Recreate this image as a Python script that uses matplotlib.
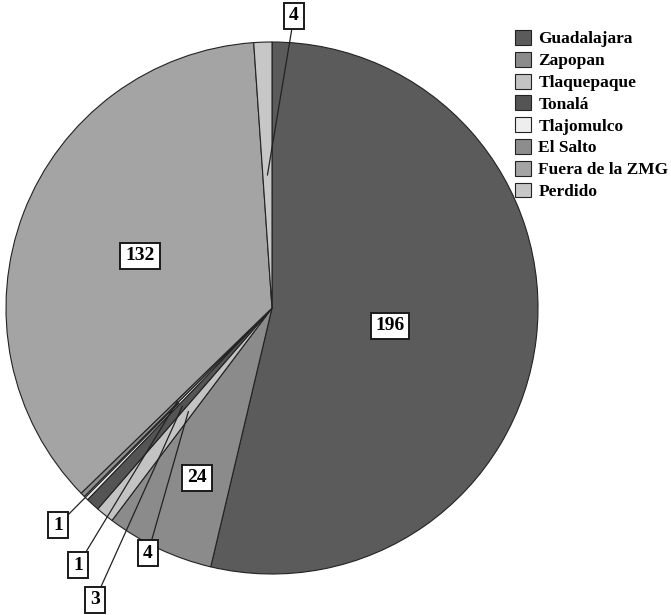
import numpy as np
import matplotlib
matplotlib.use('Agg')
from matplotlib import pyplot as plt

municipios = ['Guadalajara', 'Zapopan', 'Tlaquepaque', 'Tonalá', 'Tlajomulco',
              'El Salto', 'Fuera de la ZMG', 'Perdido']
casos = [196, 24, 4, 3, 1, 1, 132, 4]
colores = ['#5b5b5b', '#8b8b8b', '#c3c3c3', '#545454', '#eeeeee',
           '#8d8d8d', '#a4a4a4', '#c7c7c7']

plt.rcParams['font.family'] = ['Liberation Serif', 'DejaVu Serif']

fig = plt.figure(figsize=(6.71, 6.15), dpi=100)
ax = fig.add_axes([0, 0, 1, 1])

cx, cy, r = 272, 307, 266
wedges, _ = ax.pie(casos, colors=colores, startangle=90, counterclock=False,
                   center=(cx, cy), radius=r, frame=True,
                   wedgeprops=dict(edgecolor='#222222', linewidth=0.8))
ax.set_xlim(0, 671)
ax.set_ylim(0, 615)
ax.set_aspect('equal')
ax.axis('off')

caja = dict(boxstyle='square,pad=0.25', facecolor='white', edgecolor='#1a1a1a', linewidth=1.4)

def punto(i, frac):
    w = wedges[i]
    ang = np.deg2rad((w.theta1 + w.theta2) / 2)
    return cx + frac * r * np.cos(ang), cy + frac * r * np.sin(ang)

# labels drawn inside the large slices
dentro = {0: (390, 289), 6: (140, 359), 1: (197, 137)}
for i, (tx, ty) in dentro.items():
    ax.text(tx, ty, str(casos[i]), ha='center', va='center', fontsize=14,
            fontweight='bold', bbox=caja)

# small slices get an outside label with a leader line
fuera = {2: (148, 62), 3: (95, 15), 4: (58, 90), 5: (78, 50), 7: (294, 599)}
for i, (tx, ty) in fuera.items():
    x, y = punto(i, 0.5)
    ax.annotate(str(casos[i]), xy=(x, y), xytext=(tx, ty), ha='center', va='center',
                fontsize=14, fontweight='bold', bbox=caja,
                arrowprops=dict(arrowstyle='-', color='#222222', linewidth=0.9,
                                shrinkA=0, shrinkB=0))

ax.legend(wedges, municipios, loc='upper left', bbox_to_anchor=(508 / 671, 1 - 23 / 615),
          frameon=False, prop=dict(weight='bold', size=12.5),
          handlelength=0.9, handleheight=0.95, handletextpad=0.45, labelspacing=0.25,
          borderaxespad=0)

plt.savefig('out.png', dpi=100)
